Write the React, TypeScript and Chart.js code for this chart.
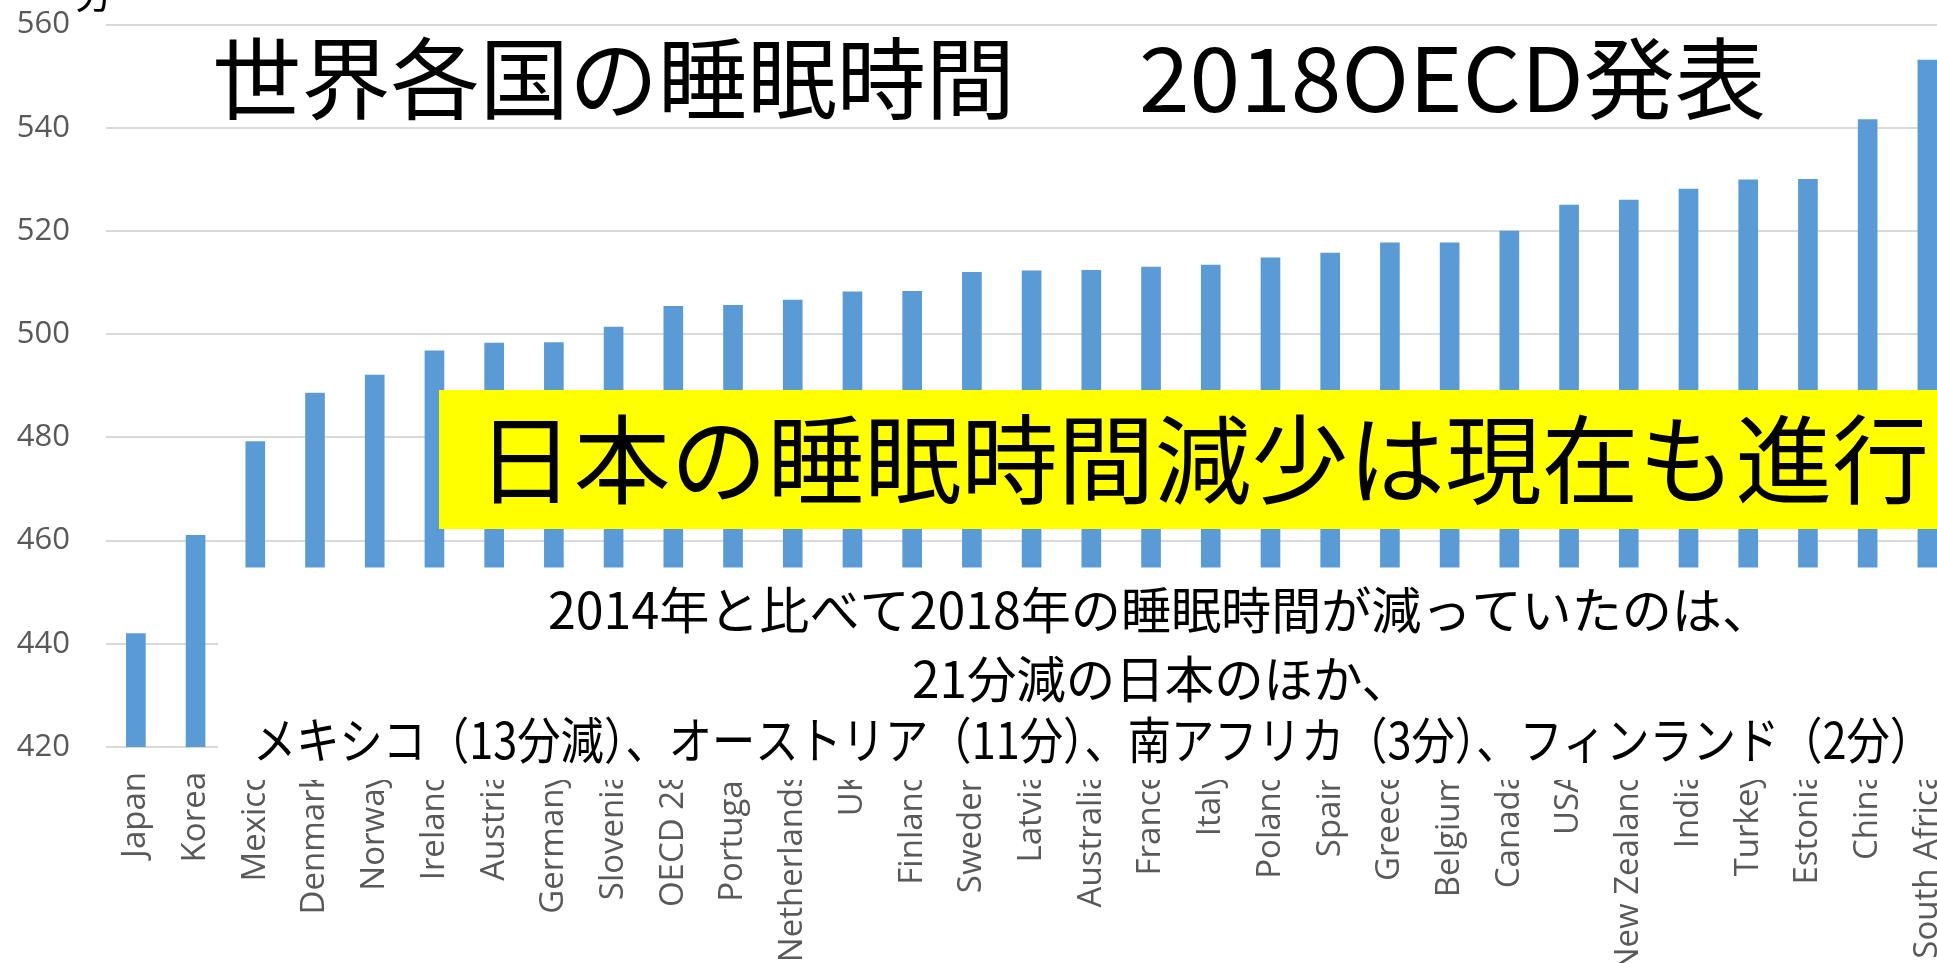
import React, { useEffect, useRef } from "react";
import { Chart, registerables } from "chart.js";

Chart.register(...registerables);

// ---- data ----
const categories = [
  "Japan", "Korea", "Mexico", "Denmark", "Norway", "Ireland", "Austria", "Germany",
  "Slovenia", "OECD 28", "Portugal", "Netherlands", "UK", "Finland", "Sweden", "Latvia",
  "Australia", "France", "Italy", "Poland", "Spain", "Greece", "Belgium", "Canada",
  "USA", "New Zealand", "India", "Turkey", "Estonia", "China", "South Africa",
];
const sleepMinutes = [
  442, 461, 479.2, 488.6, 492.1, 496.8, 498.3, 498.4,
  501.4, 505.4, 505.6, 506.6, 508.2, 508.3, 512.0, 512.3,
  512.4, 513.0, 513.4, 514.8, 515.7, 517.7, 517.7, 520.0,
  525.0, 526.0, 528.1, 529.9, 530.0, 541.6, 553.1,
];
const yTicks = [420, 440, 460, 480, 500, 520, 540, 560];

// ---- texts ----
const unitLabel = "分";
const titleLeft = "世界各国の睡眠時間";
const titleRight = "2018OECD発表";
const bannerText = "日本の睡眠時間減少は現在も進行";
const noteLines = [
  "2014年と比べて2018年の睡眠時間が減っていたのは、",
  "21分減の日本のほか、",
  "メキシコ（13分減）、オーストリア（11分）、南アフリカ（3分）、フィンランド（2分）",
];

const JP = '"Noto Sans CJK JP", "Noto Sans CJK SC", sans-serif';
const SHIFT = 30; // canvas is pulled up by this many pixels
const CANVAS_W = 1992;

function fitText(ctx: CanvasRenderingContext2D, text: string, x: number, y: number, width: number, size: number) {
  ctx.font = `${size}px ${JP}`;
  const w = ctx.measureText(text).width;
  ctx.save();
  ctx.translate(x, y);
  ctx.scale(width / w, 1);
  ctx.textAlign = "left";
  ctx.textBaseline = "middle";
  ctx.fillStyle = "#000000";
  ctx.fillText(text, 0, 0);
  ctx.restore();
}

const overlayPlugin = {
  id: "overlay",
  afterDraw(chart: any) {
    const ctx: CanvasRenderingContext2D = chart.ctx;
    const W = chart.width;
    ctx.save();
    ctx.translate(0, SHIFT);
    // white cover over the lower part of the bars
    ctx.fillStyle = "#ffffff";
    ctx.fillRect(218, 567.5, W - 218, 780 - 567.5);
    // yellow banner
    ctx.fillStyle = "#ffff00";
    ctx.fillRect(439, 390, W - 439, 529 - 390);

    // unit label (mostly cut at top)
    ctx.font = `40px ${JP}`;
    ctx.fillStyle = "#000000";
    ctx.textBaseline = "alphabetic";
    ctx.textAlign = "left";
    ctx.fillText(unitLabel, 74, 8);

    fitText(ctx, titleLeft, 212, 78, 803, 89);
    fitText(ctx, titleRight, 1139, 78, 627, 89);
    fitText(ctx, bannerText, 477, 459, 1452, 97);
    fitText(ctx, noteLines[0], 548, 610, 1224, 50);
    fitText(ctx, noteLines[1], 912, 679, 499, 50);
    fitText(ctx, noteLines[2], 253, 740, 1680, 50);
    ctx.restore();
  },
};

export default function App() {
  const ref = useRef<HTMLCanvasElement | null>(null);

  useEffect(() => {
    if (!ref.current) return;
    const chart = new Chart(ref.current, {
      type: "bar",
      data: {
        labels: categories,
        datasets: [
          {
            data: sleepMinutes,
            backgroundColor: "#5b9bd5",
            borderWidth: 0,
            barThickness: 19,
          },
        ],
      },
      options: {
        responsive: false,
        animation: false,
        devicePixelRatio: 1,
        layout: { padding: { top: 23, right: 2, left: 0, bottom: 0 } },
        plugins: {
          legend: { display: false },
          tooltip: { enabled: false },
          title: { display: false },
        },
        scales: {
          x: {
            grid: { display: false, drawTicks: false },
            border: { display: false },
            ticks: {
              minRotation: 90,
              maxRotation: 90,
              autoSkip: false,
              padding: 25,
              color: "#595959",
              font: { family: '"Open Sans", sans-serif', size: 33 },
            },
            afterFit: (s: any) => {
              s.height = 216;
            },
          },
          y: {
            min: yTicks[0],
            max: yTicks[yTicks.length - 1],
            afterBuildTicks: (s: any) => {
              s.ticks = yTicks.map((v) => ({ value: v }));
            },
            grid: { color: "#d9d9d9", lineWidth: 2, drawTicks: false },
            border: { display: false },
            ticks: {
              padding: 36,
              color: "#595959",
              font: { family: '"Open Sans", sans-serif', size: 31 },
            },
            afterFit: (s: any) => {
              s.width = 106;
            },
          },
        },
      },
      plugins: [overlayPlugin],
    });
    return () => chart.destroy();
  }, []);

  return (
    <div
      style={{
        position: "absolute",
        left: 0,
        top: 0,
        width: 1937,
        height: 963,
        overflow: "hidden",
        background: "#ffffff",
      }}
    >
      <canvas
        ref={ref}
        width={CANVAS_W}
        height={963 + SHIFT}
        style={{ display: "block", width: CANVAS_W, height: 963 + SHIFT, marginTop: -SHIFT }}
      />
    </div>
  );
}
